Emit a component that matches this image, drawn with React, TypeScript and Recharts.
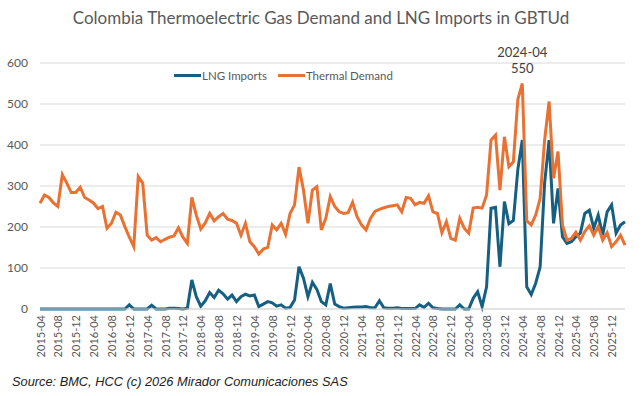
import React from 'react';
import { LineChart, Line, XAxis, YAxis, CartesianGrid, Legend, LabelList } from 'recharts';

// monthly series, 2015-04 .. 2026-03
const months: string[] = [];
for (let i = 0; i < 132; i++) {
  const m = 3 + i;
  months.push(`${2015 + Math.floor(m / 12)}-${String((m % 12) + 1).padStart(2, '0')}`);
}

const lngImports = [
  0, 0, 0, 0, 0, 0, 0, 0, 0, 0, 0, 0, 0, 0, 0, 0, 0, 0, 0, 0,
  10, 0, 0, 0, 0, 9, 0, 0, 0, 2, 2, 1, 0, 2,
  71, 30, 7, 20, 40, 28, 46, 37, 24, 34,
  18, 30, 36, 32, 34, 6, 12, 18, 15, 7,
  10, 2, 4, 22, 103, 75, 30, 65, 48, 18,
  10, 62, 12, 6, 2, 3, 4, 5, 5, 6,
  3, 3, 20, 3, 2, 2, 3, 1, 1, 1,
  1, 10, 4, 14, 3, 1, 0, 0, 0, 0,
  10, 0, 0, 26, 42, 6, 54, 246, 248, 103,
  262, 208, 216, 340, 412, 54, 35, 63, 103, 307,
  412, 209, 294, 176, 160, 164, 176, 185, 233, 241,
  197, 229, 180, 237, 254, 185, 205, 213,
];

const thermalDemand = [
  258, 278, 272, 259, 250, 328, 307, 284, 284, 297,
  272, 266, 258, 245, 250, 197, 209, 236, 229, 201,
  175, 152, 323, 307, 180, 168, 174, 164, 170, 175,
  178, 198, 175, 160, 272, 229, 195, 210, 233, 215,
  225, 233, 219, 216, 209, 180, 209, 164, 152, 134,
  146, 150, 205, 193, 209, 182, 233, 254, 346, 290,
  209, 290, 298, 193, 221, 274, 250, 237, 233, 235,
  260, 225, 205, 193, 221, 238, 243, 247, 250, 252,
  254, 237, 272, 270, 254, 260, 258, 276, 237, 233,
  186, 213, 172, 168, 221, 197, 185, 246, 248, 246,
  278, 412, 424, 290, 420, 347, 359, 511, 550, 215,
  205, 229, 270, 412, 506, 319, 384, 205, 168, 172,
  187, 168, 189, 203, 180, 201, 168, 186, 152, 164,
  180, 156,
];

const yTicks = [0, 100, 200, 300, 400, 500, 600];
const PEAK_MONTH = '2024-04';

const data = months.map((month, i) => ({ month, lng: lngImports[i], thermal: thermalDemand[i] }));

const BLUE = '#156082';
const ORANGE = '#E97132';
const GREY = '#595959';
const FONT = 'Lato, "Noto Sans", sans-serif';

const MonthTick = (props: any) => {
  const { x, y, payload } = props;
  return (
    <text
      x={x}
      y={y}
      transform={`rotate(-90, ${x}, ${y})`}
      textAnchor="end"
      dominantBaseline="central"
      fontSize={11}
      fill={GREY}
      fontFamily={FONT}
    >
      {payload.value}
    </text>
  );
};

const PeakLabel = (props: any) => {
  const { x, y, index } = props;
  if (months[index] !== PEAK_MONTH) return null;
  return (
    <g fontFamily={FONT} fontSize={13} fill="#404040" textAnchor="middle">
      <text x={x} y={y - 27}>{PEAK_MONTH}</text>
      <text x={x} y={y - 11}>{thermalDemand[index]}</text>
    </g>
  );
};

const renderLegend = () => (
  <div style={{ display: 'flex', fontFamily: FONT, fontSize: 11.5, color: GREY, whiteSpace: 'nowrap' }}>
    <span style={{ display: 'flex', alignItems: 'center', marginRight: 11 }}>
      <span style={{ display: 'inline-block', width: 27, height: 3, background: BLUE, marginRight: 1 }} />
      LNG Imports
    </span>
    <span style={{ display: 'flex', alignItems: 'center' }}>
      <span style={{ display: 'inline-block', width: 27, height: 3, background: ORANGE, marginRight: 1 }} />
      Thermal Demand
    </span>
  </div>
);

export default function App() {
  return (
    <div style={{ position: 'absolute', left: 0, top: 0, width: 642, height: 396, background: '#fff', fontFamily: FONT }}>
      <div style={{ position: 'absolute', top: 7, left: 0, width: 642, textAlign: 'center', fontSize: 17, color: GREY }}>
        Colombia Thermoelectric Gas Demand and LNG Imports in GBTUd
      </div>
      <LineChart width={642} height={396} data={data} margin={{ top: 63, right: 17, left: 0, bottom: 25 }}>
        <CartesianGrid vertical={false} stroke="#d9d9d9" />
        <XAxis
          dataKey="month"
          interval={3}
          tick={<MonthTick />}
          tickLine={false}
          tickSize={0}
          tickMargin={6}
          axisLine={{ stroke: '#d9d9d9' }}
          height={62}
        />
        <YAxis
          domain={[0, 600]}
          ticks={yTicks}
          axisLine={false}
          tickLine={false}
          tickSize={0}
          tickMargin={12}
          width={40}
          tick={{ fontSize: 12, fill: GREY, fontFamily: FONT }}
        />
        <Legend
          layout="vertical"
          align="center"
          verticalAlign="middle"
          content={renderLegend}
          wrapperStyle={{ top: 69, left: 174, width: 240 }}
        />
        <Line dataKey="lng" name="LNG Imports" stroke={BLUE} strokeWidth={3} dot={false} isAnimationActive={false} />
        <Line dataKey="thermal" name="Thermal Demand" stroke={ORANGE} strokeWidth={3} dot={false} isAnimationActive={false}>
          <LabelList dataKey="thermal" content={<PeakLabel />} />
        </Line>
      </LineChart>
      <div style={{ position: 'absolute', left: 12, top: 374, fontSize: 12.8, fontStyle: 'italic', color: '#222', fontFamily: '"Liberation Sans Narrow", "Liberation Sans", sans-serif' }}>
        Source: BMC, HCC (c) 2026 Mirador Comunicaciones SAS
      </div>
    </div>
  );
}
